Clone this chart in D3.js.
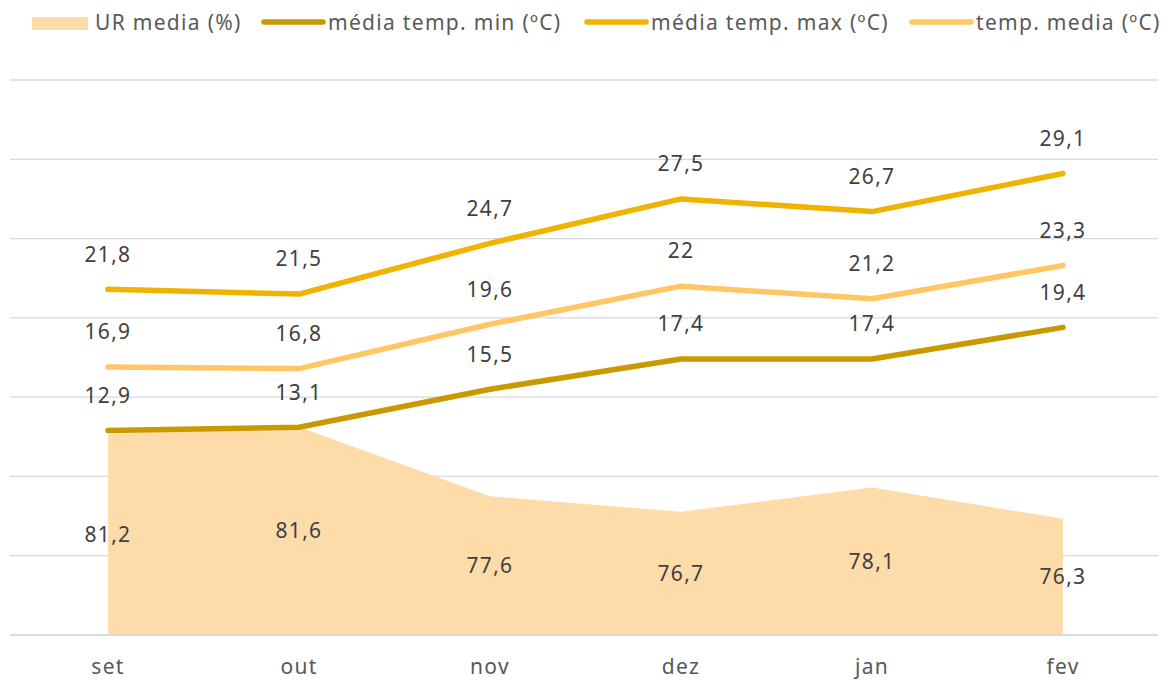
<!DOCTYPE html>
<html><head><meta charset="utf-8">
<script src="https://cdn.jsdelivr.net/npm/d3@7"></script>
<style>body{margin:0;background:#fff;} text{font-family:"Noto Sans","Open Sans",sans-serif;letter-spacing:1.3px;}</style>
</head><body><svg id="c" width="1166" height="681"></svg>
<script>
const months = ["set","out","nov","dez","jan","fev"];
const urMedia = [81.2,81.6,77.6,76.7,78.1,76.3];
const tempMin = [12.9,13.1,15.5,17.4,17.4,19.4];
const tempMax = [21.8,21.5,24.7,27.5,26.7,29.1];
const tempMedia = [16.9,16.8,19.6,22,21.2,23.3];
const gridTicks = [0,5,10,15,20,25,30,35];
const legendNames = ["UR media (%)","média temp. min (ºC)","média temp. max (ºC)","temp. media (ºC)"];

const svg = d3.select("#c");
const x = d3.scalePoint().domain(months).range([108,1063]);
const y = d3.scaleLinear().domain([0,35]).range([635,80]);
const y2 = d3.scaleLinear().domain([69.6,101.6]).range([635,80]);
const fmt = v => String(v).replace(".", ",");

svg.append("g").selectAll("line").data(gridTicks).join("line")
  .attr("x1",10).attr("x2",1158).attr("y1",d=>y(d)).attr("y2",d=>y(d))
  .attr("stroke","#d9d9d9").attr("stroke-width",1.3);

const area = d3.area().x((d,i)=>x(months[i])).y0(y2(69.6)).y1(d=>y2(d));
svg.append("path").datum(urMedia).attr("d",area).attr("fill","#fedcaa");

svg.append("line").attr("x1",10).attr("x2",1158).attr("y1",y(0)).attr("y2",y(0))
  .attr("stroke","#d9d9d9").attr("stroke-width",1.3);

const series = [
  {vals: tempMin, color:"#c99a00"},
  {vals: tempMax, color:"#efb300"},
  {vals: tempMedia, color:"#ffc764"}
];
const line = d3.line().x((d,i)=>x(months[i])).y(d=>y(d));
series.forEach(s=>{
  svg.append("path").datum(s.vals).attr("d",line).attr("fill","none")
    .attr("stroke",s.color).attr("stroke-width",5.5).attr("stroke-linecap","round").attr("stroke-linejoin","round");
});

const lab = svg.append("g").attr("fill","#404040").attr("font-size",21).attr("text-anchor","middle");
series.forEach(s=>{
  lab.append("g").selectAll("text").data(s.vals).join("text")
    .attr("x",(d,i)=>x(months[i])).attr("y",d=>y(d)-35).attr("dy","0.35em").text(fmt);
});
lab.append("g").selectAll("text").data(urMedia).join("text")
  .attr("x",(d,i)=>x(months[i])).attr("y",d=>(y2(d)+y2(69.6))/2).attr("dy","0.35em").text(fmt);

svg.append("g").attr("fill","#595959").attr("font-size",21).attr("text-anchor","middle")
  .selectAll("text").data(months).join("text")
  .attr("x",d=>x(d)).attr("y",667).attr("dy","0.35em").text(d=>d);

const lg = svg.append("g").attr("fill","#595959").attr("font-size",21);
const legendX = [32,262,585,910];
const legendColors = ["#fedcaa","#c99a00","#efb300","#ffc764"];
legendNames.forEach((n,i)=>{
  const g = lg.append("g");
  if(i===0){
    g.append("rect").attr("x",legendX[i]).attr("y",17).attr("width",56).attr("height",13).attr("fill",legendColors[i]);
    g.append("text").attr("x",legendX[i]+63).attr("y",23).attr("dy","0.35em").text(n);
  } else {
    g.append("line").attr("x1",legendX[i]+2).attr("x2",legendX[i]+61).attr("y1",22).attr("y2",22)
      .attr("stroke",legendColors[i]).attr("stroke-width",5.5).attr("stroke-linecap","round");
    g.append("text").attr("x",legendX[i]+66).attr("y",23).attr("dy","0.35em").text(n);
  }
});
</script></body></html>
